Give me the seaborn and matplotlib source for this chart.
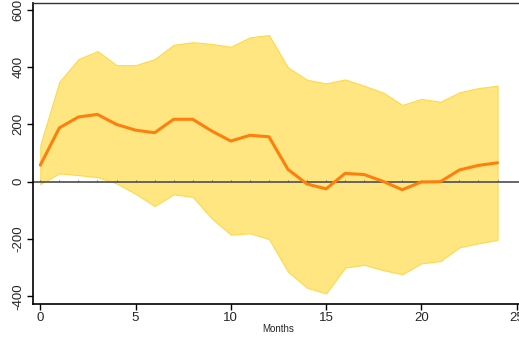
import numpy as np
import pandas as pd
import matplotlib
matplotlib.use("Agg")
import matplotlib.pyplot as plt
import seaborn as sns

months = list(range(25))
mean_vals = [58, 188, 226, 235, 200, 180, 171, 218, 218, 177, 142, 162, 157, 43, -8, -25,
             29, 25, 1, -28, -1, 0, 41, 57, 66]
upper_vals = [128, 349, 428, 456, 407, 407, 428, 478, 487, 481, 471, 504, 512, 399, 356, 343,
              357, 335, 311, 268, 289, 279, 312, 327, 335]
lower_vals = [-8, 29, 23, 16, -6, -42, -85, -44, -53, -128, -185, -180, -200, -314, -370, -390,
              -300, -290, -309, -323, -285, -277, -229, -215, -203]
xticks = [0, 5, 10, 15, 20, 25]
yticks = [-400, -200, 0, 200, 400, 600]

df = pd.DataFrame({"Months": months, "mean": mean_vals, "upper": upper_vals, "lower": lower_vals})

sns.set_style("white")
plt.rcParams["font.family"] = ["Liberation Sans", "DejaVu Sans"]

fig = plt.figure(figsize=(5.19, 3.41), dpi=100)
ax = fig.add_axes([0.063, 0.1085, 0.947, 0.8836])

ax.fill_between(df["Months"], df["lower"], df["upper"], color="#FFE680",
                edgecolor="#FFD84A", linewidth=0.8, zorder=1)
ax.axhline(0, color="#5a5a5a", linewidth=1.3, zorder=2)
sns.lineplot(data=df, x="Months", y="mean", color="#FF7F0E", linewidth=2.2, ax=ax, zorder=3)
ax.plot(df["Months"], [4] * len(months), linestyle="none", marker="|", markersize=2,
        markeredgewidth=0.7, color="#5a5a5a", zorder=2)

ax.set_xlim(-0.4, 25.4)
ax.set_ylim(-427, 625)
ax.set_xticks(xticks)
ax.set_yticks(yticks)
ax.set_xticklabels([str(t) for t in xticks], fontsize=9.5)
ax.set_yticklabels([str(t) for t in yticks], fontsize=9.5, rotation=90, va="center")
ax.set_xlabel("Months", fontsize=7, labelpad=0)
ax.set_ylabel("")
ax.tick_params(axis="both", direction="out", length=4, width=1, color="black", pad=2,
               bottom=True, left=True)

for s in ["left", "bottom"]:
    ax.spines[s].set_color("black")
    ax.spines[s].set_linewidth(1.2)
ax.spines["top"].set_color("#333333")
ax.spines["top"].set_linewidth(1.0)
ax.spines["right"].set_visible(False)

fig.savefig("out.png", dpi=100)
